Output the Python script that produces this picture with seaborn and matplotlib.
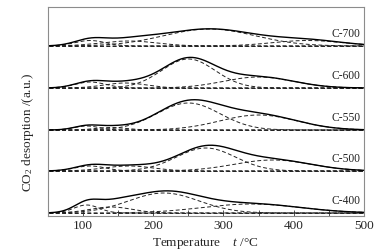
import numpy as np
import pandas as pd
import matplotlib
matplotlib.use("Agg")
import matplotlib.pyplot as plt
import seaborn as sns

# ---- data ----
samples = ["C-700", "C-600", "C-550", "C-500", "C-400"]
offsets = [170, 128, 86, 45, 3]          # vertical offset of each trace (a.u.)
# Gaussian components per sample: centres (°C), heights (a.u.), widths (sigma, °C)
centers = {
    "C-700": [110, 165, 280, 420],
    "C-600": [110, 160, 250, 350],
    "C-550": [105, 140, 250, 350],
    "C-500": [110, 165, 275, 370],
    "C-400": [105, 140, 215, 340],
}
heights = {
    "C-700": [5.5, 5.0, 17.0, 5.5],
    "C-600": [6.0, 5.0, 29.0, 11.0],
    "C-550": [4.0, 2.5, 27.0, 15.0],
    "C-500": [5.0, 5.0, 23.0, 11.0],
    "C-400": [8.0, 6.0, 20.0, 9.0],
}
widths = {
    "C-700": [22, 40, 65, 50],
    "C-600": [22, 30, 38, 50],
    "C-550": [18, 22, 45, 55],
    "C-500": [22, 35, 42, 55],
    "C-400": [18, 30, 50, 70],
}
x_ticks = [100, 200, 300, 400, 500]
temp = np.linspace(52, 500, 449)

sns.set_theme(style="white")
plt.rcParams["font.family"] = ["Liberation Serif", "DejaVu Serif"]
plt.rcParams["mathtext.fontset"] = "custom"
plt.rcParams["mathtext.rm"] = "Liberation Serif"
plt.rcParams["mathtext.it"] = "Liberation Serif:italic"

fig = plt.figure(figsize=(3.83, 2.52), dpi=100)
ax = fig.add_axes([0.1253, 0.1429, 0.8247, 0.8293])

dash = (0, (4, 2.5))
for s, off in zip(samples, offsets):
    total = np.zeros_like(temp)
    for c, h, w in zip(centers[s], heights[s], widths[s]):
        comp = h * np.exp(-(temp - c) ** 2 / (2 * w ** 2))
        total += comp
        sns.lineplot(x=temp, y=comp + off, ax=ax, color="#222222",
                     linestyle=dash, linewidth=0.7)
    sns.lineplot(x=temp, y=np.full_like(temp, off), ax=ax, color="#222222",
                 linestyle=dash, linewidth=0.7)
    sns.lineplot(x=temp, y=total + off, ax=ax, color="black", linewidth=1.0)
    ax.text(495, off + 6, s, ha="right", va="bottom", fontsize=8.3,
            color="#222222")

ax.set_xlim(50, 500)
ax.set_ylim(0, 209)
ax.set_xticks(x_ticks)
ax.set_xticklabels([str(t) for t in x_ticks])
ax.set_xticks(np.arange(150, 500, 100), minor=True)
ax.set_yticks([])
ax.tick_params(axis="x", which="both", direction="in", length=4, width=0.6,
               color="#333333", labelsize=9.5, pad=3, top=False, bottom=True)
for sp in ax.spines.values():
    sp.set_color("#8c8c8c")
    sp.set_linewidth(0.8)

ax.set_xlabel("Temperature    $t$ /°C", fontsize=9.5, labelpad=3)
ax.set_ylabel("CO$_2$ desorption /(a.u.)", fontsize=9.5)
ax.yaxis.set_label_coords(-0.038, 0.40)

fig.savefig("out.png", dpi=100)
